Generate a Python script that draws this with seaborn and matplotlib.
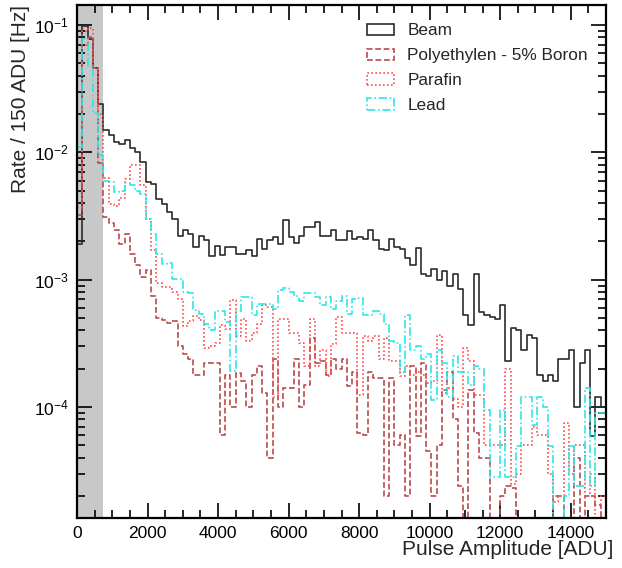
import numpy as np
import pandas as pd
import matplotlib
matplotlib.use('Agg')
import matplotlib.pyplot as plt
import seaborn as sns
from matplotlib.patches import Patch
from matplotlib.ticker import MultipleLocator, LogLocator, NullFormatter

sns.set_theme(style="ticks")
plt.rcParams['font.family'] = ['Liberation Sans', 'DejaVu Sans']
plt.rcParams['mathtext.fontset'] = 'custom'
plt.rcParams['mathtext.rm'] = 'Liberation Sans'

# Rate / 150 ADU [Hz], 100 bins from 0 to 15000 ADU
beam = [
    1.9e-3, 0.098, 0.078, 0.046, 0.024, 0.015, 0.0137, 0.0121, 0.0116, 0.0125,
    0.0108, 0.0101, 0.0084, 0.0059, 0.0056, 0.0043, 0.0039, 0.0034, 0.0030, 0.0022,
    0.00245, 0.0023, 0.0018, 0.0022, 0.00205, 0.00153, 0.00183, 0.00155, 0.0018, 0.0018,
    0.0016, 0.0016, 0.0017, 0.00153, 0.00207, 0.00175, 0.00205, 0.00215, 0.0019, 0.00294,
    0.00215, 0.00195, 0.0022, 0.0026, 0.0026, 0.00285, 0.0022, 0.0022, 0.00245, 0.00205,
    0.00205, 0.0024, 0.0021, 0.00215, 0.0021, 0.00245, 0.00205, 0.00173, 0.0017, 0.00207,
    0.0018, 0.00173, 0.00147, 0.0013, 0.00177, 0.0011, 0.00106, 0.00122, 0.0010, 0.00117,
    8.9e-4, 1.1e-3, 8.5e-4, 5.3e-4, 4.4e-4, 1.1e-3, 5.6e-4, 5.3e-4, 5.1e-4, 4.9e-4,
    6.3e-4, 2.3e-4, 4.2e-4, 4.0e-4, 2.8e-4, 3.7e-4, 3.5e-4, 1.8e-4, 1.6e-4, 1.8e-4,
    1.6e-4, 2.4e-4, 2.4e-4, 2.8e-4, 1.0e-4, 2.2e-4, 2.8e-4, 5.9e-5, 1.2e-4, 1.0e-4,
]
poly = [
    3.2e-3, 0.07, 0.08, 0.046, 0.0082, 0.0031, 0.0028, 0.00245, 0.0019, 0.0023,
    0.0016, 0.0013, 0.00105, 0.0012, 0.00074, 0.0005, 0.00048, 0.00046, 0.00047, 0.0003,
    2.6e-4, 2.4e-4, 1.8e-4, 1.8e-4, 2.2e-4, 2.2e-4, 2.2e-4, 6.0e-5, 1.8e-4, 1.0e-4,
    1.85e-4, 1.6e-4, 1.0e-4, 1.8e-4, 2.1e-4, 1.3e-4, 4.0e-5, 2.4e-4, 1.0e-4, 1.4e-4,
    1.4e-4, 2.4e-4, 1.0e-4, 1.5e-4, 3.5e-4, 2.2e-4, 2.3e-4, 1.8e-4, 2.4e-4, 2.0e-4,
    2.4e-4, 1.45e-4, 1.9e-4, 6.2e-5, 6.0e-5, 1.9e-4, 1.7e-4, 1.7e-4, 2.0e-5, 1.7e-4,
    5.0e-5, 6.0e-5, 2.0e-5, 2.1e-4, 5.9e-5, 2.2e-4, 4.5e-5, 2.0e-5, 5.0e-5, 1.35e-4,
    1.9e-4, 8.0e-5, 2.4e-5, 1.0e-5, 1.35e-4, 6.2e-5, 4.0e-5, 4.0e-5, 1.0e-5, 1.0e-5,
    2.0e-5, 2.4e-5, 2.3e-5, 1.0e-5, 1.0e-5, 1.0e-5, 1.0e-5, 1.0e-5, 1.0e-5, 1.0e-5,
    2.0e-5, 2.0e-5, 1.0e-5, 1.0e-5, 4.0e-5, 1.0e-5, 2.0e-5, 2.0e-5, 1.7e-5, 1.0e-5,
]
parafin = [
    3.7e-3, 0.09, 0.095, 0.046, 0.020, 0.0063, 0.0039, 0.0038, 0.0044, 0.0062,
    0.0079, 0.0079, 0.0055, 0.0030, 0.0017, 0.00095, 0.00088, 8.8e-4, 8.0e-4, 7.0e-4,
    4.3e-4, 4.7e-4, 5.2e-4, 4.8e-4, 2.9e-4, 3.0e-4, 3.2e-4, 4.4e-4, 4.1e-4, 6.9e-4,
    3.6e-4, 4.9e-4, 3.3e-4, 3.8e-4, 4.5e-4, 6.3e-4, 6.1e-4, 1.2e-4, 4.9e-4, 4.9e-4,
    3.8e-4, 3.8e-4, 3.2e-4, 2.1e-4, 4.9e-4, 2.1e-4, 2.8e-4, 1.75e-4, 3.1e-4, 5.1e-4,
    3.8e-4, 3.8e-4, 3.8e-4, 1.25e-4, 3.6e-4, 3.3e-4, 3.6e-4, 2.4e-4, 3.5e-4, 2.3e-4,
    2.3e-4, 1.75e-4, 2.1e-4, 1.8e-4, 1.9e-4, 1.8e-4, 1.55e-4, 1.6e-4, 3.7e-4, 1.3e-4,
    1.4e-4, 1.15e-4, 1.0e-4, 2.9e-4, 2.3e-4, 1.25e-4, 1.25e-4, 5.0e-5, 5.0e-5, 5.0e-5,
    5.0e-5, 2.0e-4, 2.5e-5, 3.0e-5, 5.0e-5, 5.0e-5, 7.0e-5, 6.0e-5, 6.0e-5, 3.0e-5,
    1.8e-5, 2.0e-5, 7.5e-5, 3.0e-5, 5.0e-5, 5.0e-5, 2.0e-5, 3.0e-5, 1.2e-5, 2.0e-5,
]
lead = [
    0.011, 0.077, 0.048, 0.0205, 0.0095, 0.0060, 0.0059, 0.0049, 0.0050, 0.0057,
    0.0055, 0.0050, 0.0047, 0.0030, 0.0023, 0.0016, 0.00133, 0.00134, 0.00102, 0.00102,
    8.0e-4, 7.8e-4, 5.8e-4, 5.4e-4, 4.5e-4, 4.0e-4, 5.7e-4, 5.7e-4, 4.65e-4, 1.93e-4,
    5.7e-4, 7.3e-4, 7.3e-4, 5.3e-4, 6.5e-4, 6.5e-4, 6.5e-4, 5.85e-4, 8.3e-4, 8.6e-4,
    8.0e-4, 7.5e-4, 6.8e-4, 7.8e-4, 7.8e-4, 7.3e-4, 6.3e-4, 7.3e-4, 5.85e-4, 6.8e-4,
    7.4e-4, 5.4e-4, 7.0e-4, 7.2e-4, 5.3e-4, 5.3e-4, 5.7e-4, 5.4e-4, 4.5e-4, 3.3e-4,
    3.2e-4, 1.9e-4, 5.3e-4, 2.8e-4, 3.0e-4, 2.4e-4, 2.6e-4, 1.13e-4, 2.8e-4, 2.2e-4,
    1.2e-4, 2.5e-4, 1.9e-4, 1.9e-4, 1.5e-4, 2.1e-4, 2.0e-4, 9.4e-5, 2.8e-5, 2.8e-5,
    9.4e-5, 2.8e-5, 2.8e-5, 4.9e-5, 1.2e-4, 1.2e-4, 7.2e-5, 1.2e-4, 1.0e-4, 4.9e-5,
    1.0e-5, 1.0e-5, 2.0e-5, 4.9e-5, 2.4e-5, 2.4e-5, 1.4e-4, 2.4e-5, 8.9e-5, 9.0e-5,
]

labels = ['Beam', 'Polyethylen - 5% Boron', 'Parafin', 'Lead']
bin_width = 150
n_bins = len(beam)
centers = np.arange(n_bins) * bin_width + bin_width / 2

df = pd.DataFrame({'amp': np.tile(centers, 4),
                   'rate': beam + poly + parafin + lead,
                   'sample': np.repeat(labels, n_bins)})

styles = {
    'Beam': dict(color='#2b2b2b', dashes=None),
    'Polyethylen - 5% Boron': dict(color='#b84c4c', dashes=(3.5, 1.6)),
    'Parafin': dict(color='#ff4d4d', dashes=(1.0, 1.4)),
    'Lead': dict(color='#2ee6e6', dashes=(5.0, 1.6, 1.0, 1.6)),
}

fig = plt.figure(figsize=(6.22, 5.68), dpi=100)
ax = fig.add_axes([77 / 622, 50 / 568, 529 / 622, 513 / 568])

ax.axvspan(0, 750, color='#c8c8c8', lw=0, zorder=0)

for lab in labels:
    st = styles[lab]
    kw = dict(color=st['color'], linewidth=1.2)
    if st['dashes'] is not None:
        kw['dashes'] = st['dashes']
    sns.histplot(data=df[df['sample'] == lab], x='amp', weights='rate',
                 bins=n_bins, binrange=(0, n_bins * bin_width),
                 element='step', fill=False, ax=ax, zorder=2, **kw)

ax.set_yscale('log')
ax.set_xlim(0, 15000)
ax.set_ylim(1.345e-5, 0.1435)

ax.xaxis.set_major_locator(MultipleLocator(2000))
ax.xaxis.set_minor_locator(MultipleLocator(500))
ax.yaxis.set_major_locator(LogLocator(base=10, numticks=10))
ax.yaxis.set_minor_locator(LogLocator(base=10, subs=np.arange(2, 10), numticks=20))
ax.yaxis.set_minor_formatter(NullFormatter())

ax.tick_params(which='both', direction='in', top=True, right=True, width=1.2,
               colors='black', labelsize=12.5)
ax.tick_params(which='major', length=11, pad=6)
ax.tick_params(which='minor', length=6)
for sp in ax.spines.values():
    sp.set_linewidth(1.6)
    sp.set_color('black')

ax.set_xlabel('Pulse Amplitude [ADU]', fontsize=15, loc='right')
ax.set_ylabel('Rate / 150 ADU [Hz]', fontsize=15, loc='top')
ax.xaxis.set_label_coords(1.013, -0.043)
ax.yaxis.set_label_coords(-0.088, 1.0)
ax.xaxis.label.set_va('top')

handles = []
for lab in labels:
    st = styles[lab]
    ls = '-' if st['dashes'] is None else (0, st['dashes'])
    handles.append(Patch(facecolor='none', edgecolor=st['color'], linewidth=1.2, linestyle=ls))
ax.legend(handles, labels, loc='upper left', bbox_to_anchor=(0.548, 0.964),
          frameon=False, fontsize=12.4, handlelength=1.57, handleheight=0.64,
          handletextpad=0.78, labelspacing=0.57, borderaxespad=0, borderpad=0)

fig.savefig('out.png', dpi=100, facecolor='white')
